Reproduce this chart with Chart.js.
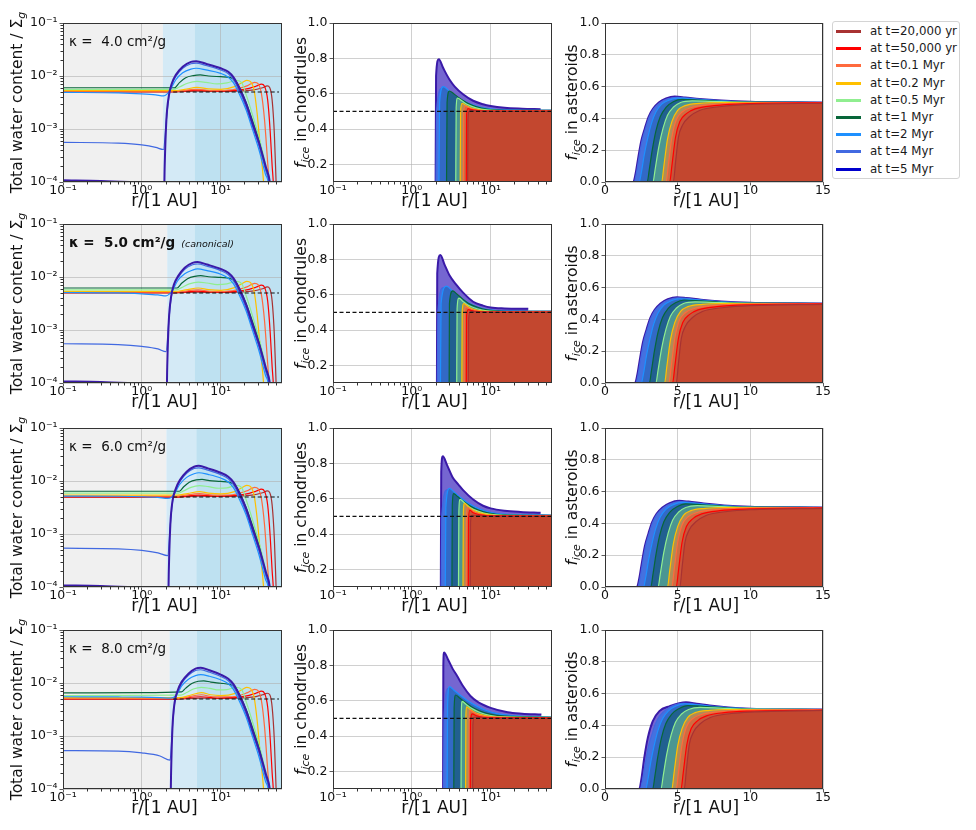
<!DOCTYPE html>
<html><head><meta charset="utf-8">
<script src="https://cdn.jsdelivr.net/npm/chart.js@4.4.1/dist/chart.umd.min.js"></script>
<style>
body{margin:0;background:#fff;}
#wrap{position:relative;width:976px;height:830px;overflow:hidden;font-family:"DejaVu Sans",sans-serif;}
#wrap canvas{position:absolute;}
#legend{position:absolute;left:832px;top:21px;width:128px;height:158px;border:1px solid #d4d4d4;border-radius:3px;box-sizing:border-box;background:#fff;}
.li{position:absolute;left:0;height:17px;width:126px;font-size:11.8px;line-height:17px;white-space:nowrap;color:#1a1a1a}
.li .sw{position:absolute;left:3px;top:7px;width:25px;height:3px}
.li .tx{position:absolute;left:37px;top:0}
</style></head><body><div id="wrap"><div id="legend"></div></div>
<script>
// ---------------- DATA ----------------
const seriesLabels = ['at t=20,000 yr','at t=50,000 yr','at t=0.1 Myr','at t=0.2 Myr','at t=0.5 Myr','at t=1 Myr','at t=2 Myr','at t=4 Myr','at t=5 Myr'];
const kappaValues = ['4.0','5.0','6.0','8.0'];
const snowStart = [1.85, 2.1, 2.05, 2.25];
const outerZone = [4.65, 4.65, 4.9, 5.0];
const xLogTicks = [0.1, 1, 10];
const yLogTicks = [1e-4, 1e-3, 1e-2, 1e-1];
const chondTicks = [0.2, 0.4, 0.6, 0.8, 1.0];
const astYTicks = [0, 0.2, 0.4, 0.6, 0.8, 1.0];
const astXTicks = [0, 5, 10, 15];
const waterRef = [[2.5,5e-3],[55,5e-3]];
const chondRef = [[0.1,0.5],[60,0.5]];

// total water content / Sigma_g, order: 20kyr,50kyr,0.1,0.2,0.5,1,2,4,5 Myr
const water_k4 = [
 [[0.1,5.0e-3],[2.5,5.0e-3],[5,5.2e-3],[10,5.1e-3],[25,5.4e-3],[34,6.0e-3],[39,6.5e-3],[42,6.0e-3],[45,3.5e-3],[48,8e-4],[50.5,1e-4],[52,3e-5]],
 [[0.1,5.05e-3],[2.5,5.05e-3],[5,5.4e-3],[9,5.2e-3],[20,5.6e-3],[28,6.4e-3],[33,7.0e-3],[36,6.4e-3],[39.5,3.5e-3],[42.5,9e-4],[45,2e-4],[46.5,1e-4],[48,3e-5]],
 [[0.1,5.15e-3],[2.5,5.15e-3],[5,5.6e-3],[8,5.3e-3],[14,5.5e-3],[22,6.6e-3],[27,7.6e-3],[30,7.1e-3],[33,4.5e-3],[36,1.5e-3],[39,3e-4],[41,1e-4],[42.5,3e-5]],
 [[0.1,5.3e-3],[2.5,5.3e-3],[3.5,5.6e-3],[5,6.1e-3],[7,5.7e-3],[10,5.6e-3],[15,6.3e-3],[19,7.6e-3],[21.5,8.3e-3],[24,7.8e-3],[26.5,5.5e-3],[29,2e-3],[32,4e-4],[35,1e-4],[36.5,3e-5]],
 [[0.1,5.6e-3],[2.5,5.6e-3],[3,6.2e-3],[3.8,7.3e-3],[5,7.9e-3],[6.5,7.6e-3],[9,7.1e-3],[12,7.4e-3],[16,8.3e-3],[18.5,7.5e-3],[21,4.5e-3],[25.5,1.8e-3],[31,6.5e-4],[37,2.2e-4],[41,1.1e-4],[44,3e-5]],
 [[0.1,6.0e-3],[2.6,6.0e-3],[3.0,7.5e-3],[3.6,9.3e-3],[4.5,1.02e-2],[5.5,1.05e-2],[7,1.0e-2],[10,9.7e-3],[13,9.4e-3],[15,8.5e-3],[17,6.5e-3],[21,3.2e-3],[25.5,1.4e-3],[31,5.5e-4],[37,1.9e-4],[41,1e-4],[44,3e-5]],
 [[0.1,4.9e-3],[0.5,4.8e-3],[1,4.6e-3],[1.5,4.4e-3],[1.88,4.2e-3],[2.1,4.6e-3],[2.3,5.5e-3],[2.7,8.5e-3],[3.3,1.15e-2],[4.2,1.35e-2],[4.9,1.4e-2],[6.5,1.3e-2],[10,1.12e-2],[12.5,9.5e-3],[14.5,7.5e-3],[17,4.8e-3],[21,2.3e-3],[25.5,9.5e-4],[31,3.8e-4],[37,1.4e-4],[40,1e-4],[43,3e-5]],
 [[0.1,5.6e-4],[0.5,5.4e-4],[1,5.0e-4],[1.5,4.5e-4],[1.88,4.1e-4],[2.05,1.5e-3],[2.2,4e-3],[2.4,6.8e-3],[2.7,9.8e-3],[3.3,1.4e-2],[4.2,1.7e-2],[4.9,1.75e-2],[6.5,1.58e-2],[10,1.3e-2],[12.5,1.1e-2],[14.5,8.5e-3],[17,5.5e-3],[21,2.6e-3],[25.5,1.1e-3],[31,4.5e-4],[37.5,1.6e-4],[41,1e-4],[44,3e-5]],
 [[0.1,1.08e-4],[0.3,1.05e-4],[0.7,1.0e-4],[1.2,9.6e-5],[1.88,9e-5],[1.9,3e-5],[1.95,2e-4],[2.05,1.5e-3],[2.2,4.2e-3],[2.4,7.2e-3],[2.7,1.05e-2],[3.3,1.5e-2],[4.2,1.85e-2],[4.9,1.9e-2],[6.5,1.7e-2],[10,1.4e-2],[12.5,1.2e-2],[14.5,9.5e-3],[17,6.2e-3],[21,3.0e-3],[25.5,1.25e-3],[31,5.2e-4],[37.5,1.9e-4],[42,1e-4],[45,3e-5]]
];
const water_k5 = [
 [[0.1,5.0e-3],[2.5,5.0e-3],[5,5.2e-3],[10,5.1e-3],[25,5.4e-3],[34,6.0e-3],[39,6.5e-3],[42,6.0e-3],[45,3.5e-3],[48,8e-4],[50.5,1e-4],[52,3e-5]],
 [[0.1,5.05e-3],[2.5,5.05e-3],[5,5.4e-3],[9,5.2e-3],[20,5.6e-3],[28,6.4e-3],[33,7.0e-3],[36,6.4e-3],[39.5,3.5e-3],[42.5,9e-4],[45,2e-4],[46.5,1e-4],[48,3e-5]],
 [[0.1,5.2e-3],[2.6,5.2e-3],[5.2,5.7e-3],[8,5.3e-3],[14,5.5e-3],[22,6.6e-3],[27,7.6e-3],[30,7.1e-3],[33,4.5e-3],[36,1.5e-3],[39,3e-4],[41,1e-4],[42.5,3e-5]],
 [[0.1,5.35e-3],[2.6,5.35e-3],[3.6,5.7e-3],[5.2,6.2e-3],[7,5.8e-3],[10,5.6e-3],[15,6.3e-3],[19,7.6e-3],[21.5,8.3e-3],[24,7.8e-3],[26.5,5.5e-3],[29,2e-3],[32,4e-4],[35,1e-4],[36.5,3e-5]],
 [[0.1,5.7e-3],[2.7,5.7e-3],[3.2,6.3e-3],[4,7.4e-3],[5.2,8.0e-3],[6.7,7.7e-3],[9,7.2e-3],[12,7.4e-3],[16,8.3e-3],[18.5,7.5e-3],[21,4.5e-3],[25.5,1.8e-3],[31,6.5e-4],[37,2.2e-4],[41,1.1e-4],[44,3e-5]],
 [[0.1,6.2e-3],[2.8,6.2e-3],[3.2,7.6e-3],[3.8,9.3e-3],[4.7,1.03e-2],[5.6,1.06e-2],[7,1.01e-2],[10,9.8e-3],[13,9.4e-3],[15,8.5e-3],[17,6.5e-3],[21,3.2e-3],[25.5,1.4e-3],[31,5.5e-4],[37,1.9e-4],[41,1e-4],[44,3e-5]],
 [[0.1,5.1e-3],[0.5,5.0e-3],[1,4.8e-3],[1.6,4.6e-3],[2.03,4.4e-3],[2.25,4.8e-3],[2.45,5.6e-3],[2.85,8.5e-3],[3.5,1.15e-2],[4.4,1.35e-2],[5.1,1.42e-2],[6.7,1.32e-2],[10,1.13e-2],[12.5,9.5e-3],[14.5,7.5e-3],[17,4.8e-3],[21,2.3e-3],[25.5,9.5e-4],[31,3.8e-4],[37,1.4e-4],[40,1e-4],[43,3e-5]],
 [[0.1,5.5e-4],[0.5,5.3e-4],[1,4.9e-4],[1.6,4.4e-4],[2.03,3.9e-4],[2.2,1.5e-3],[2.35,4e-3],[2.55,6.8e-3],[2.9,9.8e-3],[3.5,1.4e-2],[4.4,1.7e-2],[5.1,1.76e-2],[6.7,1.6e-2],[10,1.32e-2],[12.5,1.1e-2],[14.5,8.5e-3],[17,5.5e-3],[21,2.6e-3],[25.5,1.1e-3],[31,4.5e-4],[37.5,1.6e-4],[41,1e-4],[44,3e-5]],
 [[0.1,1.07e-4],[0.3,1.05e-4],[0.7,1.0e-4],[1.2,9.6e-5],[2.03,9e-5],[2.05,3e-5],[2.1,2e-4],[2.2,1.5e-3],[2.35,4.2e-3],[2.55,7.2e-3],[2.9,1.05e-2],[3.5,1.5e-2],[4.4,1.85e-2],[5.1,1.92e-2],[6.7,1.72e-2],[10,1.42e-2],[12.5,1.2e-2],[14.5,9.5e-3],[17,6.2e-3],[21,3.0e-3],[25.5,1.25e-3],[31,5.2e-4],[37.5,1.9e-4],[42,1e-4],[45,3e-5]]
];
const water_k6 = [
 [[0.1,4.95e-3],[2.5,4.95e-3],[5.3,5.2e-3],[10,5.1e-3],[25,5.4e-3],[34,6.0e-3],[39,6.5e-3],[42,6.0e-3],[45,3.5e-3],[48,8e-4],[50.5,1e-4],[52,3e-5]],
 [[0.1,5.0e-3],[2.5,5.0e-3],[5.3,5.4e-3],[9,5.2e-3],[20,5.6e-3],[28,6.4e-3],[33,7.0e-3],[36,6.4e-3],[39.5,3.5e-3],[42.5,9e-4],[45,2e-4],[46.5,1e-4],[48,3e-5]],
 [[0.1,5.15e-3],[2.7,5.15e-3],[5.4,5.8e-3],[8,5.4e-3],[14,5.5e-3],[22,6.6e-3],[27,7.6e-3],[30,7.1e-3],[33,4.5e-3],[36,1.5e-3],[39,3e-4],[41,1e-4],[42.5,3e-5]],
 [[0.1,5.4e-3],[2.8,5.4e-3],[3.8,5.8e-3],[5.4,6.3e-3],[7,5.9e-3],[10,5.7e-3],[15,6.3e-3],[19,7.6e-3],[21.5,8.3e-3],[24,7.8e-3],[26.5,5.5e-3],[29,2e-3],[32,4e-4],[35,1e-4],[36.5,3e-5]],
 [[0.1,5.9e-3],[2.9,5.9e-3],[3.4,6.5e-3],[4.2,7.6e-3],[5.4,8.2e-3],[7,7.8e-3],[9.5,7.3e-3],[12,7.4e-3],[16,8.3e-3],[18.5,7.5e-3],[21,4.5e-3],[25.5,1.8e-3],[31,6.5e-4],[37,2.2e-4],[41,1.1e-4],[44,3e-5]],
 [[0.1,6.4e-3],[3.0,6.4e-3],[3.4,7.8e-3],[4.0,9.5e-3],[4.9,1.05e-2],[5.8,1.07e-2],[7.2,1.02e-2],[10,9.8e-3],[13,9.4e-3],[15,8.5e-3],[17,6.5e-3],[21,3.2e-3],[25.5,1.4e-3],[31,5.5e-4],[37,1.9e-4],[41,1e-4],[44,3e-5]],
 [[0.1,5.2e-3],[0.5,5.15e-3],[1,5.05e-3],[1.6,4.9e-3],[2.13,4.7e-3],[2.35,4.9e-3],[2.6,5.8e-3],[3.0,8.5e-3],[3.7,1.17e-2],[4.6,1.37e-2],[5.3,1.43e-2],[6.9,1.33e-2],[10,1.14e-2],[12.5,9.6e-3],[14.5,7.5e-3],[17,4.8e-3],[21,2.3e-3],[25.5,9.5e-4],[31,3.8e-4],[37,1.4e-4],[40,1e-4],[43,3e-5]],
 [[0.1,5.4e-4],[0.5,5.25e-4],[1,4.9e-4],[1.6,4.4e-4],[2.13,3.9e-4],[2.3,1.5e-3],[2.45,4e-3],[2.7,6.8e-3],[3.05,9.8e-3],[3.7,1.4e-2],[4.6,1.72e-2],[5.3,1.77e-2],[6.9,1.6e-2],[10,1.32e-2],[12.5,1.1e-2],[14.5,8.5e-3],[17,5.5e-3],[21,2.6e-3],[25.5,1.1e-3],[31,4.5e-4],[37.5,1.6e-4],[41,1e-4],[44,3e-5]],
 [[0.1,1.07e-4],[0.3,1.05e-4],[0.7,1.0e-4],[1.2,9.6e-5],[2.13,9e-5],[2.15,3e-5],[2.2,2e-4],[2.3,1.5e-3],[2.45,4.2e-3],[2.7,7.2e-3],[3.05,1.05e-2],[3.7,1.5e-2],[4.6,1.86e-2],[5.3,1.93e-2],[6.9,1.73e-2],[10,1.43e-2],[12.5,1.2e-2],[14.5,9.5e-3],[17,6.2e-3],[21,3.0e-3],[25.5,1.25e-3],[31,5.2e-4],[37.5,1.9e-4],[42,1e-4],[45,3e-5]]
];
const water_k8 = [
 [[0.1,4.95e-3],[2.5,4.95e-3],[5.6,5.2e-3],[10,5.1e-3],[25,5.4e-3],[34,6.0e-3],[39,6.4e-3],[42,6.0e-3],[45,3.5e-3],[48,8e-4],[50.5,1e-4],[52,3e-5]],
 [[0.1,5.0e-3],[2.5,5.0e-3],[5.6,5.5e-3],[9,5.2e-3],[20,5.6e-3],[28,6.4e-3],[33,7.0e-3],[36,6.4e-3],[39.5,3.5e-3],[42.5,9e-4],[45,2e-4],[46.5,1e-4],[48,3e-5]],
 [[0.1,5.1e-3],[2.9,5.1e-3],[5.7,6.0e-3],[8,5.5e-3],[14,5.5e-3],[22,6.6e-3],[27,7.6e-3],[30,7.1e-3],[33,4.5e-3],[36,1.5e-3],[39,3e-4],[41,1e-4],[42.5,3e-5]],
 [[0.1,5.3e-3],[3.0,5.3e-3],[4.0,5.8e-3],[5.7,6.6e-3],[7.5,6.0e-3],[10,5.8e-3],[15,6.3e-3],[19,7.6e-3],[21.5,8.3e-3],[24,7.8e-3],[26.5,5.5e-3],[29,2e-3],[32,4e-4],[35,1e-4],[36.5,3e-5]],
 [[0.1,5.8e-3],[3.1,5.9e-3],[3.7,6.6e-3],[4.5,7.7e-3],[5.7,8.3e-3],[7.3,7.9e-3],[9.5,7.4e-3],[12,7.5e-3],[16,8.3e-3],[18.5,7.5e-3],[21,4.5e-3],[25.5,1.8e-3],[31,6.5e-4],[37,2.2e-4],[41,1.1e-4],[44,3e-5]],
 [[0.1,6.5e-3],[1,6.6e-3],[3.2,6.8e-3],[3.6,8.0e-3],[4.3,9.8e-3],[5.2,1.08e-2],[6.1,1.1e-2],[7.5,1.04e-2],[10,9.9e-3],[13,9.4e-3],[15,8.5e-3],[17,6.5e-3],[21,3.2e-3],[25.5,1.4e-3],[31,5.5e-4],[37,1.9e-4],[41,1e-4],[44,3e-5]],
 [[0.1,5.5e-3],[0.5,5.45e-3],[1,5.4e-3],[1.7,5.3e-3],[2.28,5.2e-3],[2.5,5.3e-3],[2.8,6.2e-3],[3.2,8.8e-3],[3.9,1.18e-2],[4.8,1.38e-2],[5.6,1.44e-2],[7.2,1.34e-2],[10,1.15e-2],[12.5,9.7e-3],[14.5,7.6e-3],[17,4.8e-3],[21,2.3e-3],[25.5,9.5e-4],[31,3.8e-4],[37,1.4e-4],[40,1e-4],[43,3e-5]],
 [[0.1,5.3e-4],[0.5,5.2e-4],[1,4.8e-4],[1.7,4.2e-4],[2.28,3.5e-4],[2.45,1.5e-3],[2.6,4e-3],[2.85,6.8e-3],[3.2,9.8e-3],[3.9,1.4e-2],[4.8,1.72e-2],[5.6,1.78e-2],[7.2,1.6e-2],[10,1.33e-2],[12.5,1.1e-2],[14.5,8.5e-3],[17,5.5e-3],[21,2.6e-3],[25.5,1.1e-3],[31,4.5e-4],[37.5,1.6e-4],[41,1e-4],[44,3e-5]],
 [[0.1,1.0e-4],[0.3,9.9e-5],[0.7,9.6e-5],[1.2,9.3e-5],[2.28,9e-5],[2.3,3e-5],[2.35,2e-4],[2.45,1.5e-3],[2.6,4.2e-3],[2.85,7.2e-3],[3.2,1.05e-2],[3.9,1.5e-2],[4.8,1.87e-2],[5.6,1.94e-2],[7.2,1.74e-2],[10,1.44e-2],[12.5,1.2e-2],[14.5,9.5e-3],[17,6.2e-3],[21,3.0e-3],[25.5,1.25e-3],[31,5.2e-4],[37.5,1.9e-4],[42,1e-4],[45,3e-5]]
];

// f_ice in chondrules
const chond_k4 = [
 [[5.1,0],[5.15,0.45],[5.3,0.5],[5.6,0.505],[7,0.502],[10,0.5],[60,0.5]],
 [[4.9,0],[4.95,0.48],[5.15,0.515],[5.6,0.51],[7,0.504],[10,0.502],[60,0.502]],
 [[4.5,0],[4.55,0.5],[4.75,0.53],[5.3,0.52],[6.5,0.508],[9,0.503],[60,0.503]],
 [[4.1,0],[4.15,0.5],[4.35,0.545],[5,0.53],[6,0.515],[8,0.506],[12,0.503],[60,0.503]],
 [[3.6,0],[3.65,0.52],[3.8,0.575],[4.3,0.56],[5,0.54],[6.5,0.52],[9,0.508],[15,0.504],[60,0.504]],
 [[2.75,0],[2.8,0.55],[3.0,0.615],[3.4,0.6],[4,0.575],[5,0.548],[6.5,0.527],[9,0.512],[15,0.506],[60,0.505]],
 [[2.2,0],[2.25,0.55],[2.5,0.64],[2.9,0.62],[3.5,0.59],[4.5,0.56],[6,0.535],[8,0.52],[12,0.51],[25,0.506],[60,0.505]],
 [[2.02,0],[2.06,0.5],[2.4,0.63],[2.9,0.61],[3.5,0.585],[4.5,0.555],[6,0.532],[8,0.518],[12,0.509],[25,0.506],[60,0.505]],
 [[2.0,0],[2.03,0.7],[2.2,0.795],[2.5,0.745],[3.0,0.68],[3.5,0.64],[4.5,0.595],[6,0.56],[8,0.54],[10,0.53],[15,0.52],[25,0.515],[43,0.512]]
];
const chond_k5 = [
 [[5.2,0],[5.25,0.45],[5.45,0.5],[5.8,0.505],[7,0.502],[10,0.5],[60,0.5]],
 [[4.9,0],[4.95,0.48],[5.2,0.515],[5.7,0.51],[7,0.504],[10,0.502],[60,0.502]],
 [[4.6,0],[4.65,0.5],[4.85,0.53],[5.4,0.52],[6.6,0.508],[9,0.503],[60,0.503]],
 [[4.3,0],[4.35,0.5],[4.55,0.55],[5.2,0.532],[6.2,0.516],[8,0.507],[12,0.503],[60,0.503]],
 [[3.7,0],[3.75,0.52],[3.95,0.58],[4.5,0.56],[5.2,0.54],[6.7,0.52],[9,0.508],[15,0.504],[60,0.504]],
 [[2.97,0],[3.0,0.55],[3.3,0.622],[3.7,0.605],[4.3,0.58],[5.2,0.552],[6.7,0.53],[9,0.514],[15,0.506],[60,0.505]],
 [[2.3,0],[2.35,0.55],[2.75,0.648],[3.2,0.625],[3.8,0.595],[4.8,0.562],[6.2,0.537],[8,0.52],[12,0.51],[25,0.506],[60,0.505]],
 [[2.1,0],[2.14,0.5],[2.5,0.64],[3,0.62],[3.7,0.59],[4.7,0.56],[6,0.537],[8,0.52],[12,0.51],[25,0.506],[60,0.505]],
 [[2.08,0],[2.1,0.72],[2.3,0.825],[2.6,0.77],[3.0,0.71],[3.7,0.654],[4.5,0.61],[6,0.56],[8,0.538],[10,0.527],[15,0.522],[30,0.52]]
];
const chond_k6 = [
 [[5.5,0],[5.55,0.46],[5.75,0.505],[6.2,0.506],[8,0.502],[10,0.5],[60,0.5]],
 [[5.2,0],[5.25,0.49],[5.45,0.535],[6,0.52],[7.5,0.508],[10,0.503],[60,0.502]],
 [[4.9,0],[4.95,0.5],[5.1,0.55],[5.7,0.535],[7,0.515],[9,0.506],[60,0.503]],
 [[4.45,0],[4.5,0.52],[4.65,0.574],[5.2,0.555],[6.2,0.532],[8,0.515],[11,0.506],[60,0.503]],
 [[3.9,0],[3.95,0.53],[4.1,0.596],[4.6,0.578],[5.4,0.552],[7,0.528],[9.5,0.512],[15,0.505],[60,0.504]],
 [[3.22,0],[3.26,0.56],[3.4,0.629],[3.8,0.612],[4.5,0.585],[5.5,0.558],[7,0.535],[9.5,0.518],[15,0.508],[60,0.505]],
 [[2.65,0],[2.7,0.55],[3.0,0.658],[3.4,0.64],[4,0.612],[5,0.58],[6.5,0.55],[8.5,0.53],[12,0.515],[25,0.508],[60,0.506]],
 [[2.35,0],[2.4,0.5],[2.8,0.65],[3.3,0.635],[4,0.61],[5,0.58],[6.5,0.55],[8.5,0.53],[12,0.515],[25,0.508],[60,0.506]],
 [[2.33,0],[2.36,0.75],[2.47,0.84],[2.8,0.79],[3.3,0.72],[3.9,0.68],[4.5,0.647],[6,0.595],[8,0.56],[10,0.545],[15,0.532],[24,0.525],[43,0.52]]
];
const chond_k8 = [
 [[5.9,0],[5.95,0.46],[6.15,0.505],[6.8,0.506],[8.5,0.502],[11,0.5],[60,0.5]],
 [[5.5,0],[5.55,0.48],[5.85,0.525],[6.5,0.515],[8,0.506],[11,0.503],[60,0.502]],
 [[5.3,0],[5.35,0.5],[5.45,0.545],[6,0.535],[7.2,0.518],[9.5,0.508],[60,0.503]],
 [[4.8,0],[4.85,0.52],[4.95,0.565],[5.5,0.55],[6.5,0.53],[8.5,0.515],[12,0.507],[60,0.504]],
 [[4.2,0],[4.25,0.54],[4.35,0.596],[4.9,0.578],[5.8,0.555],[7.3,0.533],[10,0.516],[15,0.508],[60,0.505]],
 [[3.4,0],[3.44,0.56],[3.6,0.632],[4,0.617],[4.7,0.592],[5.7,0.566],[7.2,0.543],[9.5,0.525],[15,0.512],[60,0.506]],
 [[2.8,0],[2.84,0.57],[3.0,0.679],[3.4,0.66],[4,0.635],[5,0.603],[6.5,0.572],[8.5,0.547],[12,0.527],[25,0.511],[60,0.507]],
 [[2.52,0],[2.56,0.5],[2.9,0.67],[3.4,0.655],[4,0.63],[5,0.6],[6.5,0.57],[8.5,0.545],[12,0.525],[25,0.51],[60,0.507]],
 [[2.49,0],[2.51,0.8],[2.56,0.872],[2.9,0.83],[3.3,0.78],[3.74,0.741],[4.5,0.68],[5.5,0.628],[7,0.59],[10,0.559],[16.4,0.534],[25,0.526],[44,0.521]]
];

// f_ice in asteroids
const ast_k4 = [
 [[0,0],[4.7,0],[4.85,0.12],[5.05,0.28],[5.35,0.36],[5.8,0.41],[6.5,0.45],[8,0.475],[10,0.488],[15,0.495]],
 [[0,0],[4.45,0],[4.6,0.1],[4.85,0.28],[5.15,0.38],[5.6,0.43],[6.2,0.46],[7.5,0.48],[10,0.493],[15,0.498]],
 [[0,0],[4.2,0],[4.35,0.1],[4.6,0.28],[4.9,0.39],[5.3,0.44],[6,0.47],[7,0.485],[9,0.495],[15,0.5]],
 [[0,0],[3.9,0],[4.05,0.1],[4.3,0.27],[4.6,0.38],[5.0,0.45],[5.5,0.48],[6.5,0.495],[8,0.5],[15,0.5]],
 [[0,0],[3.3,0],[3.45,0.08],[3.7,0.22],[4.0,0.34],[4.3,0.42],[4.7,0.47],[5.2,0.5],[6,0.51],[8,0.505],[10,0.501],[15,0.5]],
 [[0,0],[2.9,0],[3.05,0.08],[3.25,0.2],[3.5,0.32],[3.8,0.41],[4.2,0.47],[4.7,0.505],[5.3,0.52],[6.5,0.515],[8,0.507],[10,0.502],[15,0.5]],
 [[0,0],[2.35,0],[2.5,0.06],[2.7,0.17],[2.95,0.28],[3.2,0.37],[3.5,0.44],[3.9,0.49],[4.4,0.515],[5,0.528],[6,0.522],[8,0.51],[10,0.503],[15,0.5]],
 [[0,0],[2.0,0],[2.15,0.05],[2.35,0.16],[2.55,0.26],[2.8,0.34],[3.05,0.41],[3.35,0.46],[3.8,0.5],[4.3,0.523],[4.9,0.533],[5.5,0.53],[6.5,0.52],[8,0.51],[10,0.503],[15,0.5]],
 [[0,0],[1.95,0],[2.1,0.05],[2.3,0.16],[2.5,0.26],[2.75,0.34],[3.0,0.41],[3.3,0.46],[3.7,0.5],[4.2,0.525],[4.8,0.537],[5.5,0.532],[6.5,0.522],[8,0.512],[10,0.504],[12,0.501],[15,0.5]]
];
const ast_k5 = [
 [[0,0],[4.9,0],[5.05,0.12],[5.25,0.28],[5.55,0.36],[6,0.41],[6.7,0.45],[8.2,0.475],[10,0.487],[15,0.495]],
 [[0,0],[4.65,0],[4.8,0.1],[5.05,0.28],[5.35,0.38],[5.8,0.43],[6.4,0.46],[7.7,0.48],[10,0.492],[15,0.498]],
 [[0,0],[4.4,0],[4.55,0.1],[4.8,0.28],[5.1,0.39],[5.5,0.44],[6.2,0.47],[7.2,0.485],[9,0.495],[15,0.5]],
 [[0,0],[4.1,0],[4.25,0.1],[4.5,0.27],[4.8,0.38],[5.2,0.45],[5.7,0.48],[6.7,0.495],[8,0.5],[15,0.5]],
 [[0,0],[3.5,0],[3.65,0.08],[3.9,0.22],[4.2,0.34],[4.5,0.42],[4.9,0.47],[5.4,0.5],[6.2,0.51],[8,0.505],[10,0.501],[15,0.5]],
 [[0,0],[3.05,0],[3.2,0.08],[3.4,0.2],[3.65,0.32],[3.95,0.41],[4.35,0.47],[4.85,0.505],[5.45,0.522],[6.6,0.516],[8,0.508],[10,0.502],[15,0.5]],
 [[0,0],[2.5,0],[2.65,0.06],[2.85,0.17],[3.1,0.28],[3.35,0.37],[3.65,0.44],[4.05,0.49],[4.55,0.517],[5.15,0.53],[6.1,0.524],[8,0.511],[10,0.503],[15,0.5]],
 [[0,0],[2.12,0],[2.27,0.05],[2.47,0.16],[2.67,0.26],[2.92,0.34],[3.17,0.41],[3.47,0.46],[3.92,0.5],[4.42,0.524],[5.0,0.535],[5.6,0.532],[6.6,0.521],[8,0.511],[10,0.503],[15,0.5]],
 [[0,0],[2.07,0],[2.22,0.05],[2.42,0.16],[2.62,0.26],[2.87,0.34],[3.12,0.41],[3.42,0.46],[3.82,0.5],[4.32,0.527],[4.95,0.54],[5.6,0.535],[6.6,0.524],[8,0.513],[10,0.504],[12,0.501],[15,0.5]]
];
const ast_k6 = [
 [[0,0],[5.15,0],[5.3,0.12],[5.5,0.28],[5.8,0.36],[6.25,0.41],[6.95,0.45],[8.4,0.475],[10,0.486],[15,0.495]],
 [[0,0],[4.9,0],[5.05,0.1],[5.3,0.28],[5.6,0.38],[6.05,0.43],[6.65,0.46],[7.9,0.48],[10,0.491],[15,0.498]],
 [[0,0],[4.6,0],[4.75,0.1],[5.0,0.28],[5.3,0.39],[5.7,0.44],[6.4,0.47],[7.4,0.485],[9.2,0.495],[15,0.5]],
 [[0,0],[4.3,0],[4.45,0.1],[4.7,0.27],[5.0,0.38],[5.4,0.45],[5.9,0.48],[6.9,0.495],[8.2,0.5],[15,0.5]],
 [[0,0],[3.65,0],[3.8,0.08],[4.05,0.22],[4.35,0.34],[4.65,0.42],[5.05,0.47],[5.55,0.5],[6.35,0.512],[8,0.506],[10,0.501],[15,0.5]],
 [[0,0],[3.15,0],[3.3,0.08],[3.5,0.2],[3.75,0.32],[4.05,0.41],[4.45,0.47],[4.95,0.505],[5.55,0.523],[6.7,0.517],[8.2,0.508],[10,0.502],[15,0.5]],
 [[0,0],[2.65,0],[2.8,0.06],[3.0,0.17],[3.25,0.28],[3.5,0.37],[3.8,0.44],[4.2,0.49],[4.7,0.518],[5.3,0.532],[6.3,0.525],[8.2,0.511],[10,0.503],[15,0.5]],
 [[0,0],[2.25,0],[2.4,0.05],[2.6,0.16],[2.8,0.26],[3.05,0.34],[3.3,0.41],[3.6,0.46],[4.05,0.5],[4.55,0.525],[5.15,0.537],[5.75,0.534],[6.8,0.522],[8.2,0.511],[10,0.503],[15,0.5]],
 [[0,0],[2.2,0],[2.35,0.05],[2.55,0.16],[2.75,0.26],[3.0,0.34],[3.25,0.41],[3.55,0.46],[3.95,0.5],[4.45,0.528],[5.1,0.542],[5.75,0.537],[6.8,0.525],[8.2,0.513],[10,0.504],[12,0.501],[15,0.5]]
];
const ast_k8 = [
 [[0,0],[5.45,0],[5.6,0.12],[5.8,0.28],[6.1,0.36],[6.55,0.41],[7.25,0.45],[8.7,0.475],[10,0.484],[15,0.494]],
 [[0,0],[5.23,0],[5.38,0.1],[5.63,0.28],[5.93,0.38],[6.38,0.43],[6.98,0.46],[8.2,0.48],[10,0.49],[15,0.497]],
 [[0,0],[4.9,0],[5.05,0.1],[5.3,0.28],[5.6,0.39],[6.0,0.44],[6.7,0.47],[7.7,0.485],[9.5,0.495],[15,0.5]],
 [[0,0],[4.6,0],[4.75,0.1],[5.0,0.27],[5.3,0.38],[5.7,0.45],[6.2,0.48],[7.2,0.495],[8.5,0.5],[15,0.5]],
 [[0,0],[3.85,0],[4.0,0.08],[4.25,0.22],[4.55,0.34],[4.85,0.42],[5.25,0.47],[5.75,0.5],[6.55,0.513],[8.2,0.507],[10,0.502],[15,0.5]],
 [[0,0],[3.28,0],[3.43,0.08],[3.63,0.2],[3.88,0.32],[4.18,0.41],[4.58,0.47],[5.08,0.505],[5.7,0.525],[6.9,0.519],[8.4,0.509],[10,0.503],[15,0.5]],
 [[0,0],[2.8,0],[2.95,0.06],[3.15,0.17],[3.4,0.28],[3.65,0.37],[3.95,0.44],[4.35,0.49],[4.85,0.52],[5.5,0.535],[6.5,0.527],[8.4,0.512],[10,0.504],[15,0.5]],
 [[0,0],[2.42,0],[2.57,0.05],[2.77,0.16],[2.97,0.26],[3.22,0.34],[3.47,0.41],[3.77,0.46],[4.22,0.5],[4.72,0.527],[5.4,0.539],[6.0,0.536],[7.0,0.523],[8.4,0.512],[10,0.504],[15,0.5]],
 [[0,0],[2.36,0],[2.5,0.06],[2.7,0.195],[2.94,0.32],[3.28,0.426],[3.74,0.49],[4.43,0.52],[5.57,0.545],[6.3,0.537],[7.2,0.525],[8.5,0.513],[10,0.505],[12,0.501],[15,0.5]]
];

// ---------------- STYLE ----------------
const lineColors = ['#a83232','#ff0000','#ff6a3d','#ffc000','#90ee90','#08663a','#1e90ff','#4169e1','#3a1aa8'];
const legendColors = ['#a83232','#ff0000','#ff6a3d','#ffc000','#90ee90','#08663a','#1e90ff','#4169e1','#0000cd'];
const fillColors = ['rgba(195,70,46,0.93)','rgba(201,82,58,0.93)','rgba(208,106,64,0.93)','rgba(184,140,82,0.93)','rgba(78,154,146,0.93)','rgba(32,96,140,0.93)','rgba(48,104,196,0.93)','rgba(66,114,224,0.93)','rgba(106,90,205,0.93)'];
const FONT = '"DejaVu Sans", sans-serif';
const PADL=66, PADT=24, PADR=12, PADB=46;
const colLeft=[63,333,605], colWidth=[219,219,218];
const rowTop=[23,224,428,630], plotH=159;
const GRID='rgba(176,176,176,0.75)';

const supMap={'-':'⁻','0':'⁰','1':'¹','2':'²','3':'³','4':'⁴','5':'⁵'};
function logLabel(v){const e=Math.round(Math.log10(v));return '10'+String(e).split('').map(c=>supMap[c]).join('');}
function toPts(a){return a.map(p=>({x:p[0],y:p[1]}));}

function segFont(k){
  const it=k.includes('it')?'italic ':'';
  const bd=k.includes('bold')?'bold ':'';
  let sz=15.5; if(k.includes('sub')) sz=11; if(k.includes('small')) sz=9.5; if(k.includes('kap')) sz=13.5;
  return it+bd+sz+'px '+FONT;
}
function drawRich(ctx,segs,x,y,rot,center){
  ctx.save(); ctx.translate(x,y); if(rot) ctx.rotate(-Math.PI/2);
  let tot=0; segs.forEach(s=>{ctx.font=segFont(s[1]); tot+=ctx.measureText(s[0]).width;});
  let cx=center?-tot/2:0; ctx.textAlign='left'; ctx.textBaseline='middle'; ctx.fillStyle='#111';
  segs.forEach(s=>{ctx.font=segFont(s[1]); let dy=0; if(s[1].includes('sub')) dy=4; if(s[1].includes('small')) dy=1.5; ctx.fillText(s[0],cx,dy); cx+=ctx.measureText(s[0]).width;});
  ctx.restore();
}

const zonesPlugin={id:'zones',beforeDraw(chart,args,o){
  if(!o||!o.on) return; const {ctx,chartArea:a,scales:{x}}=chart;
  const s=x.getPixelForValue(o.snow), b=x.getPixelForValue(o.outer);
  ctx.save(); ctx.fillStyle='#f0f0f0'; ctx.fillRect(a.left,a.top,s-a.left,a.height);
  ctx.fillStyle='#d4eaf6'; ctx.fillRect(s,a.top,b-s,a.height);
  ctx.fillStyle='#bee1f1'; ctx.fillRect(b,a.top,a.right-b,a.height); ctx.restore();
}};
const decoPlugin={id:'deco',afterDraw(chart,args,o){
  const {ctx,chartArea:a}=chart; ctx.save();
  ctx.strokeStyle='#333'; ctx.lineWidth=1;
  ['x','y'].forEach(k=>{const s=chart.scales[k]; if(s.type!=='logarithmic') return;
    for(let e=-5;e<2;e++) for(let m=2;m<10;m++){const v=m*Math.pow(10,e); if(v<=s.min||v>=s.max) continue;
      const p=Math.round(s.getPixelForValue(v))+0.5; ctx.beginPath();
      if(k==='x'){ctx.moveTo(p,a.bottom);ctx.lineTo(p,a.bottom+2.5);} else {ctx.moveTo(a.left,p);ctx.lineTo(a.left-2.5,p);} ctx.stroke();}});
  ctx.strokeRect(a.left+0.5,a.top+0.5,a.width-1,a.height-1);
  ctx.font='17px '+FONT; ctx.fillStyle='#111'; ctx.textAlign='center'; ctx.textBaseline='middle';
  ctx.fillText('r/[1 AU]',(a.left+a.right)/2-8,a.bottom+o.xOff);
  drawRich(ctx,o.yTitle,a.left-o.yOff,(a.top+a.bottom)/2,true,true);
  if(o.kappa) drawRich(ctx,o.kappa,a.left+6,a.top+19,false,false);
  ctx.restore();
}};

function axis(type,min,max,ticks,fmt,isX,z){
  return {type,min,max,bounds:'data',z,
    afterBuildTicks:s=>{s.ticks=ticks.map(v=>({value:v}));},
    afterFit:s=>{ if(isX){s.height=PADB;s.paddingLeft=0;s.paddingRight=0;} else {s.width=PADL;s.paddingTop=0;s.paddingBottom=0;} },
    grid:{color:GRID,lineWidth:0.8,tickLength:3.5,tickColor:'#333',drawTicks:true},
    border:{display:false},
    ticks:{font:{family:FONT,size:12.5},color:'#111',padding:isX?-2:2,maxRotation:0,autoSkip:false,callback:fmt},
    title:{display:false}
  };
}
function makeCanvas(col,row){
  const c=document.createElement('canvas');
  const w=colWidth[col]+PADL+PADR, h=plotH+PADT+PADB;
  c.width=w; c.height=h; c.style.width=w+'px'; c.style.height=h+'px';
  c.style.left=(colLeft[col]-PADL)+'px'; c.style.top=(rowTop[row]-PADT)+'px';
  document.getElementById('wrap').appendChild(c); return c;
}
function baseOptions(scales,plug){
  return {responsive:false,animation:false,devicePixelRatio:1,
    layout:{padding:{left:0,top:PADT,right:PADR,bottom:0}},
    plugins:Object.assign({legend:{display:false},tooltip:{enabled:false}},plug),
    elements:{point:{radius:0}},scales};
}
const dashedStyle={borderColor:'#111',borderWidth:1.1,borderDash:[4,2.5],pointRadius:0,fill:false};

const waterRows=[water_k4,water_k5,water_k6,water_k8];
const chondRows=[chond_k4,chond_k5,chond_k6,chond_k8];
const astRows=[ast_k4,ast_k5,ast_k6,ast_k8];

for(let r=0;r<4;r++){
  const wd=[Object.assign({data:toPts(waterRef)},dashedStyle)];
  for(let i=8;i>=0;i--) wd.push({data:toPts(waterRows[r][i]),borderColor:lineColors[i],borderWidth:i===8?2:1.2,pointRadius:0,fill:false,cubicInterpolationMode:'monotone'});
  const kap = r===1 ? [['κ =  '+kappaValues[r]+' cm²/g','kap bold'],['  (canonical)','it small']] : [['κ =  '+kappaValues[r]+' cm²/g','kap']];
  new Chart(makeCanvas(0,r),{type:'line',data:{datasets:wd},
    options:baseOptions({x:axis('logarithmic',0.1,60,xLogTicks,v=>logLabel(v),true,0),y:axis('logarithmic',1e-4,1e-1,yLogTicks,v=>logLabel(v),false,0)},
      {zones:{on:true,snow:snowStart[r],outer:outerZone[r]},deco:{xOff:20,yOff:45,yTitle:[['Total water content / Σ',''],['g','it sub']],kappa:kap}}),
    plugins:[zonesPlugin,decoPlugin]});
  const cd=[Object.assign({data:toPts(chondRef)},dashedStyle)];
  for(let i=0;i<9;i++) cd.push({data:toPts(chondRows[r][i]),borderColor:lineColors[i],backgroundColor:fillColors[i],fill:'start',borderWidth:i===8?2:1.2,pointRadius:0,cubicInterpolationMode:'monotone'});
  new Chart(makeCanvas(1,r),{type:'line',data:{datasets:cd},
    options:baseOptions({x:axis('logarithmic',0.1,60,xLogTicks,v=>logLabel(v),true,1),y:axis('linear',0.1,1.0,chondTicks,v=>v.toFixed(1),false,1)},
      {deco:{xOff:20,yOff:31,yTitle:[['f','it'],['ice','it sub'],[' in chondrules','']]}}),
    plugins:[decoPlugin]});
  const ad=[];
  for(let i=0;i<9;i++) ad.push({data:toPts(astRows[r][i]),borderColor:lineColors[i],backgroundColor:fillColors[i],fill:'start',borderWidth:i===8?2:1.2,pointRadius:0,cubicInterpolationMode:'monotone'});
  new Chart(makeCanvas(2,r),{type:'line',data:{datasets:ad},
    options:baseOptions({x:axis('linear',0,15,astXTicks,v=>String(v),true,1),y:axis('linear',0,1.0,astYTicks,v=>v.toFixed(1),false,1)},
      {deco:{xOff:20,yOff:32,yTitle:[['f','it'],['ice','it sub'],[' in asteroids','']]}}),
    plugins:[decoPlugin]});
}

const lg=document.getElementById('legend');
seriesLabels.forEach((t,i)=>{
  const d=document.createElement('div'); d.className='li'; d.style.top=(1+i*17.2)+'px';
  d.innerHTML='<span class="sw" style="background:'+legendColors[i]+'"></span><span class="tx"></span>';
  d.querySelector('.tx').textContent=t; lg.appendChild(d);
});
</script></body></html>
